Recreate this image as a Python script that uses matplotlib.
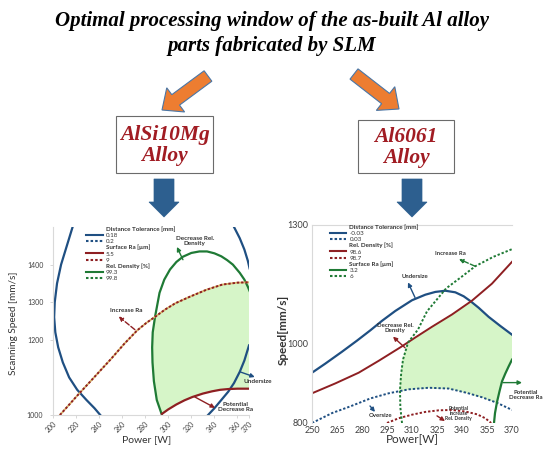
import numpy as np
import matplotlib
matplotlib.use('Agg')
import matplotlib.pyplot as plt
from matplotlib.patches import FancyArrow, Rectangle
from matplotlib.lines import Line2D

# ---------------- text ----------------
title_lines = ["Optimal processing window of the as-built Al alloy",
               "parts fabricated by SLM"]
alloy_left = "AlSi10Mg\nAlloy"
alloy_right = "Al6061\nAlloy"

# ---------------- left chart (AlSi10Mg) ----------------
L_xticks = [200, 220, 240, 260, 280, 300, 320, 340, 360, 370]
L_yticks = [1000, 1200, 1300, 1400]

# Distance tolerance 0.18 mm (solid blue), two branches
L_blue_a_W = [217, 212, 207, 203.5, 201.5, 201, 202, 204.5, 208.5, 214, 221, 229, 236, 241]
L_blue_a_S = [1500, 1450, 1400, 1350, 1300, 1260, 1220, 1180, 1140, 1100, 1067, 1040, 1018, 1000]
L_blue_b_W = [357, 362, 366, 369, 370.5]
L_blue_b_S = [1500, 1470, 1440, 1410, 1390]
L_blue_c_W = [334.5, 340, 346, 352, 357, 362, 366, 370]
L_blue_c_S = [1000, 1018, 1040, 1062, 1085, 1115, 1145, 1185]
# Rel. density 99.3 % (solid green)
L_green_W = [294.5, 290, 287.5, 286.3, 286, 286.5, 288.5, 292.4, 296.5, 301.5, 307, 312.7,
             320, 327, 333.6, 340, 346, 351, 356, 362, 366, 369, 370.5]
L_green_S = [1000, 1040, 1090, 1140, 1180, 1220, 1261, 1325, 1360, 1387, 1407, 1421,
             1431, 1435, 1435, 1430, 1422, 1412, 1400, 1378, 1360, 1341, 1330]
# Surface Ra 9 um (dotted red)
L_redd_W = [206, 220, 235, 250, 262, 273, 281, 288.5, 297, 306, 319, 333, 347, 360, 370]
L_redd_S = [1000, 1048, 1098, 1148, 1190, 1225, 1245, 1261, 1280, 1297, 1315, 1333, 1347, 1352, 1353]
# Surface Ra 5.5 um (solid red)
L_reds_W = [294.5, 300, 307, 314, 321, 330, 338, 345, 352, 360, 370]
L_reds_S = [1003, 1015, 1028, 1039, 1048, 1057, 1063, 1067, 1069, 1070, 1070]

L_legend_labels = ["Distance Tolerance [mm]", "0.18", "0.2", "Surface Ra [µm]", "5.5", "9",
                   "Rel. Density [%]", "99.3", "99.8"]

# ---------------- right chart (Al6061) ----------------
R_xticks = [250, 265, 280, 295, 310, 325, 340, 355, 370]
R_yticks = [800, 1000, 1300]

# Distance tolerance -0.03 (solid blue)
R_blue_W = [250, 258, 268, 277, 285, 292, 300, 310, 318, 324, 330, 336, 341, 345, 350, 356, 363, 370]
R_blue_S = [927, 950, 980, 1008, 1034, 1058, 1083, 1110, 1124, 1131, 1134, 1130, 1120, 1108, 1091, 1068, 1045, 1023]
# Distance tolerance 0.03 (dotted blue)
R_blued_W = [250, 262, 273, 285, 296, 308, 320, 332, 343, 352, 361, 370]
R_blued_S = [800, 825, 842, 862, 875, 885, 889, 887, 876, 865, 851, 833]
# Rel. density 98.6 (solid red)
R_red_W = [250, 264, 278, 290, 303, 312, 322, 334, 346, 358, 370]
R_red_S = [875, 900, 927, 957, 991, 1016, 1043, 1074, 1109, 1152, 1207]
# Rel. density 98.7 (dotted red)
R_redd_W = [295, 302, 310, 318, 326, 334, 342, 349, 354, 357.5]
R_redd_S = [800, 812, 821, 828, 832, 833, 829, 822, 812, 800]
# Surface Ra 6 (dotted green)
R_greend_W = [304, 303, 302.8, 303.5, 304.6, 307.6, 313.6, 319, 330.5, 340, 348, 359, 370]
R_greend_S = [800, 840, 884, 925, 960, 1003, 1036, 1082, 1140, 1170, 1196, 1220, 1239]
# Surface Ra 3.2 (solid green)
R_greens_W = [359.2, 359.8, 361, 362.5, 364, 366, 368, 370]
R_greens_S = [800, 825, 853, 880, 905, 925, 943, 960]

R_legend_labels = ["Distance Tolerance [mm]", "-0.03", "0.03", "Rel. Density [%]", "98.6", "98.7",
                   "Surface Ra [µm]", "3.2", "6"]

# ---------------- style ----------------
BLUE = '#1f4f82'
RED = '#8e1f22'
GREEN = '#1f7a35'
FILL = '#d6f5c8'
ORANGE = '#ed7d31'
ARROW_BLUE = '#2d5f8f'
BOX_RED = '#a11c23'
DOT = (0, (1.2, 1.0))
CHART_FONT = 'Lato'
SERIF = 'Liberation Serif'

fig = plt.figure(figsize=(5.5, 4.5), dpi=100)
ax0 = fig.add_axes([0, 0, 1, 1])
ax0.set_xlim(0, 550)
ax0.set_ylim(450, 0)
ax0.axis('off')


def px_rect(x0, y0, x1, y1):
    return [x0 / 550, 1 - y1 / 450, (x1 - x0) / 550, (y1 - y0) / 450]


# ---- header diagram ----
for i, line in enumerate(title_lines):
    ax0.text(272, 21 + 25 * i, line, ha='center', va='center', fontfamily=SERIF,
             fontweight='bold', fontstyle='italic', fontsize=15, color='black')

for (x0, y0, x1, y1) in [(208, 76, 162, 110), (354, 74, 399, 109)]:
    ax0.add_patch(FancyArrow(x0, y0, x1 - x0, y1 - y0, width=13, head_width=30, head_length=17,
                             length_includes_head=True, fc=ORANGE, ec='#4a76a6', lw=0.8))

for (bx0, by0, bx1, by1, txt) in [(116, 116, 213, 173, alloy_left), (358, 120, 454, 173, alloy_right)]:
    ax0.add_patch(Rectangle((bx0, by0), bx1 - bx0, by1 - by0, fc='white', ec='#6b6b6b', lw=0.8))
    ax0.text((bx0 + bx1) / 2, (by0 + by1) / 2 + 1, txt, ha='center', va='center', fontfamily=SERIF,
             fontweight='bold', fontstyle='italic', fontsize=15.5, color=BOX_RED, linespacing=1.1)

for cx in [164, 412]:
    ax0.add_patch(FancyArrow(cx, 179, 0, 38, width=20, head_width=30, head_length=15,
                             length_includes_head=True, fc=ARROW_BLUE, ec=ARROW_BLUE, lw=0.5))

# axis titles (figure pixel positions)
ax0.text(147, 440, 'Power [W]', ha='center', va='center', fontfamily=CHART_FONT, fontsize=7.5, color='#333333')
ax0.text(14, 323, 'Scanning Speed [mm/s]', ha='center', va='center', rotation=90,
         fontfamily=CHART_FONT, fontsize=7.2, color='#333333')
ax0.text(412, 440, 'Power[W]', ha='center', va='center', fontfamily=CHART_FONT, fontsize=8.5, color='#333333')
ax0.text(283, 330, 'Speed[mm/s]', ha='center', va='center', rotation=90,
         fontfamily=CHART_FONT, fontsize=8.5, fontweight='bold', color='#333333')


def annotate(ax, text, txy, start, end, color, ls='-', fs=4.6):
    ax.annotate('', xy=end, xytext=start, annotation_clip=False,
                arrowprops=dict(arrowstyle='-|>', color=color, lw=1.0, ls=ls, mutation_scale=6,
                                shrinkA=0, shrinkB=0))
    ax.text(txy[0], txy[1], text, ha='center', va='center', fontsize=fs, fontweight='bold',
            color='#333333', fontfamily=CHART_FONT, clip_on=False, linespacing=1.0)


def style_axes(ax, tick_fs):
    for s in ['right']:
        ax.spines[s].set_visible(False)
    for s in ['left', 'bottom', 'top']:
        ax.spines[s].set_color('#d9d9d9')
        ax.spines[s].set_linewidth(0.8)
    ax.tick_params(colors='#d0d0d0', labelcolor='#404040', labelsize=tick_fs, length=2, width=0.6)
    for lab in ax.get_xticklabels() + ax.get_yticklabels():
        lab.set_fontfamily(CHART_FONT)


def legend(ax, handles, labels, x):
    leg = ax.legend(handles, labels, loc='upper left', bbox_to_anchor=(x, 1.005), fontsize=4.5,
                    handlelength=2.6, handletextpad=0.5, labelspacing=0.12, borderpad=0,
                    borderaxespad=0, frameon=False, prop={'family': CHART_FONT, 'size': 4.5})
    for i, t in enumerate(leg.get_texts()):
        t.set_color('#333333')
        if i % 3 == 0:
            t.set_fontweight('bold')
    return leg


# ---------------- left chart ----------------
axL = fig.add_axes(px_rect(53, 227, 249, 415))
axL.set_xlim(200, 370)
axL.set_ylim(1000, 1500)

Wg = np.linspace(200, 370, 700)
Sg = np.linspace(1000, 1500, 700)
WW, SS = np.meshgrid(Wg, Sg)
k = int(np.argmax(L_green_S)) + 1
w_left = np.interp(SS, L_green_S[:k], L_green_W[:k])
maskL = (SS >= np.interp(WW, L_reds_W, L_reds_S)) & (SS <= np.interp(WW, L_redd_W, L_redd_S)) & (WW >= w_left)
axL.contourf(WW, SS, maskL.astype(float), levels=[0.5, 1.5], colors=[FILL])

lw = 1.6
axL.plot(L_blue_a_W, L_blue_a_S, color=BLUE, lw=lw)
axL.plot(L_blue_b_W, L_blue_b_S, color=BLUE, lw=lw)
axL.plot(L_blue_c_W, L_blue_c_S, color=BLUE, lw=lw)
axL.plot(L_green_W, L_green_S, color=GREEN, lw=lw)
axL.plot(L_redd_W, L_redd_S, color='#d8b36a', lw=1.3)
axL.plot(L_redd_W, L_redd_S, color=RED, lw=1.4, ls=DOT)
axL.plot(L_reds_W, L_reds_S, color=RED, lw=lw)

axL.set_xticks(L_xticks)
axL.set_yticks(L_yticks)
style_axes(axL, 5)
for lab in axL.get_xticklabels():
    lab.set_rotation(45)
    lab.set_ha('right')
    lab.set_rotation_mode('anchor')
axL.tick_params(axis='y', pad=5)
axL.tick_params(axis='x', pad=2)
axL.spines['top'].set_visible(False)

hL = [Line2D([], [], color='none'), Line2D([], [], color=BLUE, lw=1.5),
      Line2D([], [], color=BLUE, lw=1.5, ls=DOT),
      Line2D([], [], color='none'), Line2D([], [], color=RED, lw=1.5),
      Line2D([], [], color=RED, lw=1.5, ls=DOT),
      Line2D([], [], color='none'), Line2D([], [], color=GREEN, lw=1.5),
      Line2D([], [], color=GREEN, lw=1.5, ls=DOT)]
legend(axL, hL, L_legend_labels, 0.17)

annotate(axL, 'Decrease Rel.\nDensity', (323, 1462), (312.7, 1413), (307.5, 1447), GREEN)
annotate(axL, 'Increase Ra', (263.5, 1277), (271, 1227), (257, 1262), RED, ls='--')
annotate(axL, 'Undersize', (378, 1088), (362, 1115), (375, 1101), BLUE)
annotate(axL, 'Potential\nDecrease Ra', (358, 1021), (323, 1048), (340.5, 1019), RED)

# ---------------- right chart ----------------
axR = fig.add_axes(px_rect(312, 225, 512, 423))
axR.set_xlim(250, 370)
axR.set_ylim(800, 1300)

Wg = np.linspace(250, 370, 700)
Sg = np.linspace(800, 1300, 700)
WW, SS = np.meshgrid(Wg, Sg)
maskR = ((SS >= np.interp(WW, R_blued_W, R_blued_S)) &
         (SS >= np.interp(WW, R_greens_W, R_greens_S, left=0)) &
         (SS <= np.interp(WW, R_red_W, R_red_S)) &
         (SS <= np.interp(WW, R_blue_W, R_blue_S)) &
         (WW >= np.interp(SS, R_greend_S, R_greend_W)))
axR.contourf(WW, SS, maskR.astype(float), levels=[0.5, 1.5], colors=[FILL])

axR.plot(R_blue_W, R_blue_S, color=BLUE, lw=lw)
axR.plot(R_blued_W, R_blued_S, color=BLUE, lw=1.4, ls=DOT)
axR.plot(R_red_W, R_red_S, color=RED, lw=1.4)
axR.plot(R_redd_W, R_redd_S, color=RED, lw=1.4, ls=DOT)
axR.plot(R_greend_W, R_greend_S, color=GREEN, lw=1.4, ls=DOT)
axR.plot(R_greens_W, R_greens_S, color=GREEN, lw=lw)

axR.set_xticks(R_xticks)
axR.set_yticks(R_yticks)
style_axes(axR, 6.5)
axR.spines['bottom'].set_visible(False)
axR.tick_params(axis='y', pad=3, length=0)
axR.tick_params(axis='x', pad=2, length=0)

hR = [Line2D([], [], color='none'), Line2D([], [], color=BLUE, lw=1.5),
      Line2D([], [], color=BLUE, lw=1.5, ls=DOT),
      Line2D([], [], color='none'), Line2D([], [], color=RED, lw=1.5),
      Line2D([], [], color=RED, lw=1.5, ls=DOT),
      Line2D([], [], color='none'), Line2D([], [], color=GREEN, lw=1.5),
      Line2D([], [], color=GREEN, lw=1.5, ls=DOT)]
legend(axR, hR, R_legend_labels, 0.09)

annotate(axR, 'Increase Ra', (333, 1229), (347.8, 1196), (338.2, 1214), GREEN, ls='--', fs=4.3)
annotate(axR, 'Undersize', (312, 1171), (311.8, 1117), (307.6, 1155), BLUE, fs=4.3)
annotate(axR, 'Decrease Rel.\nDensity', (300, 1041), (305.8, 990), (298.6, 1018), RED, fs=4.3)
annotate(axR, 'Potential\nDecrease Ra', (378, 871), (364.6, 902), (376, 902), GREEN, fs=4.3)
annotate(axR, 'Oversize', (291, 818), (284.8, 843), (287.8, 828), BLUE, fs=4.3)
annotate(axR, 'Potential\nincrease\nRel. Density', (338, 823), (325, 818), (329.8, 805), RED, fs=3.6)

fig.savefig('out.png', dpi=100)
